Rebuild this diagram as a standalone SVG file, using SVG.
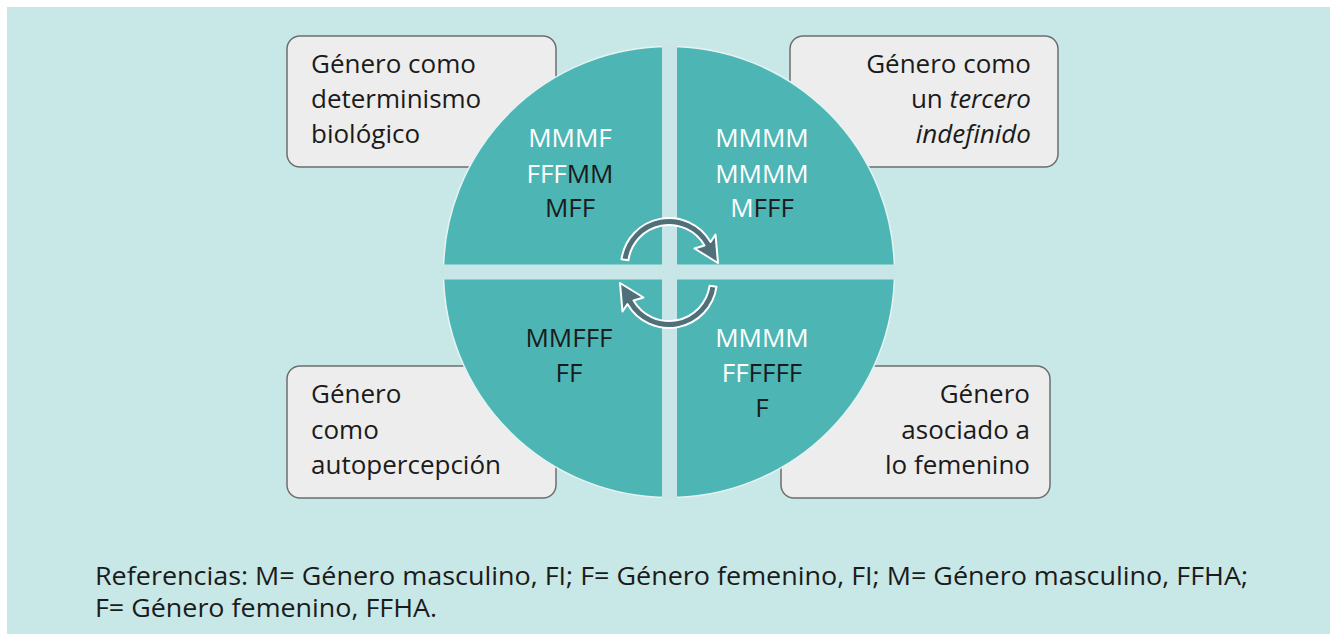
<svg xmlns="http://www.w3.org/2000/svg" width="1330" height="634" viewBox="0 0 1330 634">
<style>
  .t { font-family: "Open Sans", "Noto Sans", "DejaVu Sans", sans-serif; font-size: 26px; fill: #1b1b1b; }
  .w { fill: #ffffff; }
  .k { fill: #1b1b1b; }
  .box { fill: #ededed; stroke: #6e6e6e; stroke-width: 1.5; }
  .arrow { fill: #4f6f79; stroke: #ffffff; stroke-width: 2; stroke-linejoin: round; }
  .leg { font-family: "Open Sans", "Noto Sans", "DejaVu Sans", sans-serif; font-size: 25px; fill: #1b1b1b; }
</style>
<rect x="0" y="0" width="1330" height="634" fill="#ffffff"/>
<rect x="7" y="7" width="1323" height="627" fill="#c8e8e7"/>

<g id="box-tl">
  <rect class="box" x="287" y="36" width="269" height="131" rx="13"/>
  <text class="t" x="311" y="73">Género como</text>
  <text class="t" x="311" y="108">determinismo</text>
  <text class="t" x="311" y="143">biológico</text>
</g>
<g id="box-tr">
  <rect class="box" x="790" y="36" width="268" height="131" rx="13"/>
  <text class="t" x="1031" y="73" text-anchor="end">Género como</text>
  <text class="t" x="1031" y="108" text-anchor="end">un <tspan font-style="italic">tercero</tspan></text>
  <text class="t" x="1031" y="143" text-anchor="end" font-style="italic">indefinido</text>
</g>
<g id="box-bl">
  <rect class="box" x="287" y="366" width="269" height="132" rx="13"/>
  <text class="t" x="311" y="403">Género</text>
  <text class="t" x="311" y="439">como</text>
  <text class="t" x="311" y="474">autopercepción</text>
</g>
<g id="box-br">
  <rect class="box" x="781" y="366" width="269" height="132" rx="13"/>
  <text class="t" x="1030" y="403" text-anchor="end">Género</text>
  <text class="t" x="1030" y="439" text-anchor="end">asociado a</text>
  <text class="t" x="1030" y="474" text-anchor="end">lo femenino</text>
</g>

<g id="circle">
  <circle cx="669" cy="272" r="225.5" fill="#4db6b5" stroke="#e6f3f3" stroke-width="1.5"/>
  <rect x="662" y="44" width="15" height="456" fill="#c8e6e8"/>
  <rect x="441" y="264.5" width="456" height="15" fill="#c8e6e8"/>
</g>

<g id="q-tl" text-anchor="middle">
  <text class="t" x="570" y="147"><tspan class="w">MMMF</tspan></text>
  <text class="t" x="570" y="183"><tspan class="w">FFF</tspan><tspan class="k">MM</tspan></text>
  <text class="t" x="570" y="217">MFF</text>
</g>
<g id="q-tr" text-anchor="middle">
  <text class="t" x="762" y="147"><tspan class="w">MMMM</tspan></text>
  <text class="t" x="762" y="183"><tspan class="w">MMMM</tspan></text>
  <text class="t" x="762" y="217"><tspan class="w">M</tspan><tspan class="k">FFF</tspan></text>
</g>
<g id="q-bl" text-anchor="middle">
  <text class="t" x="569" y="347">MMFFF</text>
  <text class="t" x="569" y="382">FF</text>
</g>
<g id="q-br" text-anchor="middle">
  <text class="t" x="762" y="347"><tspan class="w">MMMM</tspan></text>
  <text class="t" x="762" y="382"><tspan class="w">FF</tspan><tspan class="k">FFFF</tspan></text>
  <text class="t" x="762" y="417">F</text>
</g>

<g id="connectors">
  <path id="arrow-top" class="arrow" d="M621.5,259.3 A48,48 0 0 1 710.6,242 L715.5,234.5 L718,263 L694.5,248.5 L704.5,245.5 A41,41 0 0 0 628.4,260.3 Z"/>
  <path id="arrow-bottom" class="arrow" transform="rotate(180 669 273)" d="M621.5,259.3 A48,48 0 0 1 710.6,242 L715.5,234.5 L718,263 L694.5,248.5 L704.5,245.5 A41,41 0 0 0 628.4,260.3 Z"/>
</g>

<g id="legend">
  <text class="leg" x="95" y="585" textLength="1153" lengthAdjust="spacingAndGlyphs">Referencias: M= Género masculino, FI; F= Género femenino, FI; M= Género masculino, FFHA;</text>
  <text class="leg" x="95" y="617" textLength="342" lengthAdjust="spacingAndGlyphs">F= Género femenino, FFHA.</text>
</g>
</svg>
